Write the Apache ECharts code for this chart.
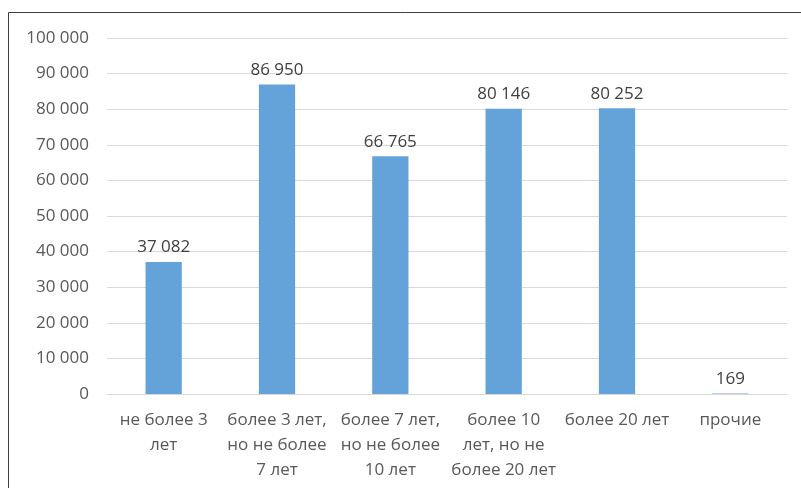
<!DOCTYPE html>
<html>
<head>
<meta charset="utf-8">
<script src="https://cdn.jsdelivr.net/npm/echarts@6/dist/echarts.min.js"></script>
<style>html,body{margin:0;padding:0;background:#fff}#c{width:801px;height:488px}</style>
</head>
<body>
<div id="c"></div>
<script>
var categories = ['не более 3\nлет', 'более 3 лет,\nно не более\n7 лет', 'более 7 лет,\nно не более\n10 лет', 'более 10\nлет, но не\nболее 20 лет', 'более 20 лет', 'прочие'];
var values = [37082, 86950, 66765, 80146, 80252, 169];
var yTicks = [0, 10000, 20000, 30000, 40000, 50000, 60000, 70000, 80000, 90000, 100000];

function fmt(v) {
  return String(v).replace(/\B(?=(\d{3})+(?!\d))/g, ' ');
}
var FONT = 'Open Sans';
var chart = echarts.init(document.getElementById('c'), null, {renderer: 'canvas'});
chart.setOption({
  animation: false,
  backgroundColor: '#fff',
  grid: {left: 107, right: 14, top: 38, bottom: 94, containLabel: false},
  xAxis: {
    type: 'category',
    data: categories,
    axisLine: {show: true, lineStyle: {color: '#d9d9d9', width: 1}},
    axisTick: {show: false},
    axisLabel: {color: '#595959', fontFamily: FONT, fontSize: 17, lineHeight: 25, margin: 14, interval: 0}
  },
  yAxis: {
    type: 'value',
    min: yTicks[0],
    max: yTicks[yTicks.length - 1],
    interval: yTicks[1] - yTicks[0],
    axisLine: {show: false},
    axisTick: {show: false},
    splitLine: {lineStyle: {color: '#d9d9d9', width: 1}},
    axisLabel: {color: '#595959', fontFamily: FONT, fontSize: 17, margin: 18, formatter: fmt}
  },
  series: [{
    type: 'bar',
    data: values,
    barWidth: '32%',
    itemStyle: {color: '#64a2da'},
    label: {show: true, position: 'top', distance: 6, color: '#404040', fontFamily: FONT, fontSize: 17, formatter: function(p){return fmt(p.value);}}
  }],
  graphic: [
    {type: 'line', shape: {x1: 8.5, y1: 12.5, x2: 801, y2: 12.5}, style: {stroke: '#404040', lineWidth: 1}},
    {type: 'line', shape: {x1: 8.5, y1: 12.5, x2: 8.5, y2: 488}, style: {stroke: '#404040', lineWidth: 1}}
  ]
});
</script>
</body>
</html>
